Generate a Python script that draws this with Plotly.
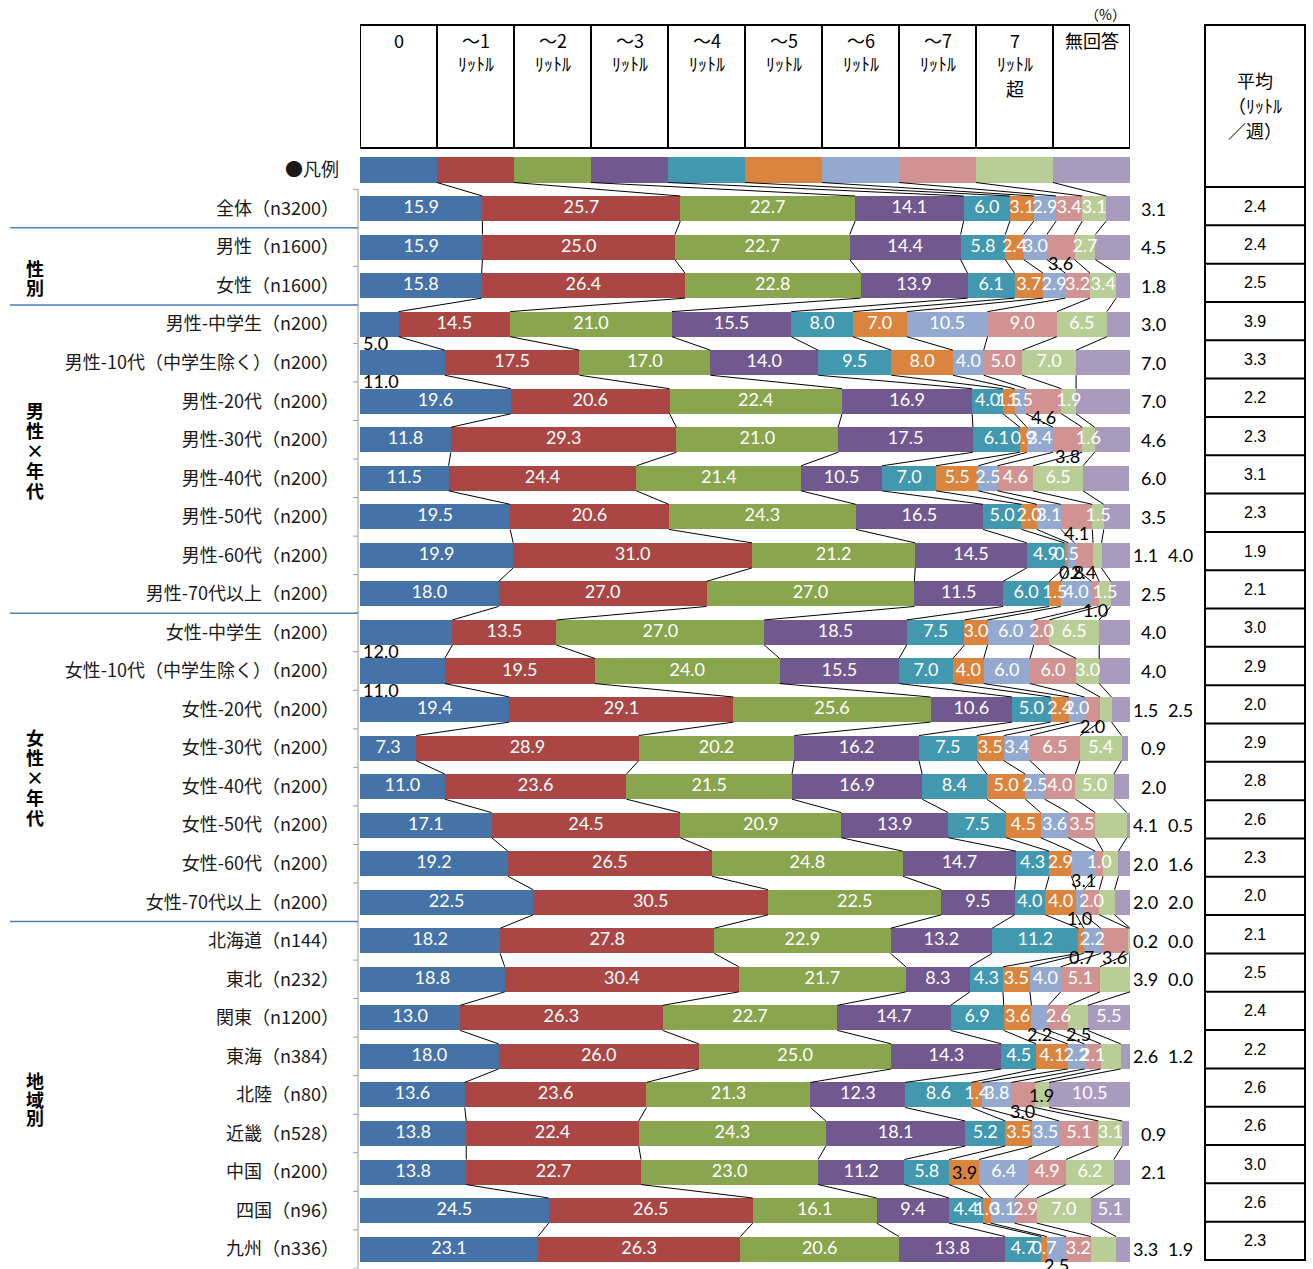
import plotly.graph_objects as go

W, H = 1313, 1269

rows = ["●凡例", "全体（n3200）", "男性（n1600）", "女性（n1600）",
        "男性-中学生（n200）", "男性-10代（中学生除く）（n200）", "男性-20代（n200）", "男性-30代（n200）",
        "男性-40代（n200）", "男性-50代（n200）", "男性-60代（n200）", "男性-70代以上（n200）",
        "女性-中学生（n200）", "女性-10代（中学生除く）（n200）", "女性-20代（n200）", "女性-30代（n200）",
        "女性-40代（n200）", "女性-50代（n200）", "女性-60代（n200）", "女性-70代以上（n200）",
        "北海道（n144）", "東北（n232）", "関東（n1200）", "東海（n384）", "北陸（n80）",
        "近畿（n528）", "中国（n200）", "四国（n96）", "九州（n336）"]

series_names = ["0", "～1ﾘｯﾄﾙ", "～2ﾘｯﾄﾙ", "～3ﾘｯﾄﾙ", "～4ﾘｯﾄﾙ", "～5ﾘｯﾄﾙ", "～6ﾘｯﾄﾙ", "～7ﾘｯﾄﾙ", "7ﾘｯﾄﾙ超", "無回答"]
header_lines = [["0"], ["～1", "ﾘｯﾄﾙ"], ["～2", "ﾘｯﾄﾙ"], ["～3", "ﾘｯﾄﾙ"], ["～4", "ﾘｯﾄﾙ"],
                ["～5", "ﾘｯﾄﾙ"], ["～6", "ﾘｯﾄﾙ"], ["～7", "ﾘｯﾄﾙ"], ["7", "ﾘｯﾄﾙ", "超"], ["無回答"]]
colors = ["#4572A7", "#AA4643", "#89A54E", "#71588F", "#4198AF",
          "#DB843D", "#93A9CF", "#D19392", "#B9CD96", "#A99BBD"]

# first value of every series is the legend row (equal segments)
v_0 = [10, 15.9, 15.9, 15.8, 5.0, 11.0, 19.6, 11.8, 11.5, 19.5, 19.9, 18.0,
       12.0, 11.0, 19.4, 7.3, 11.0, 17.1, 19.2, 22.5,
       18.2, 18.8, 13.0, 18.0, 13.6, 13.8, 13.8, 24.5, 23.1]
v_1 = [10, 25.7, 25.0, 26.4, 14.5, 17.5, 20.6, 29.3, 24.4, 20.6, 31.0, 27.0,
       13.5, 19.5, 29.1, 28.9, 23.6, 24.5, 26.5, 30.5,
       27.8, 30.4, 26.3, 26.0, 23.6, 22.4, 22.7, 26.5, 26.3]
v_2 = [10, 22.7, 22.7, 22.8, 21.0, 17.0, 22.4, 21.0, 21.4, 24.3, 21.2, 27.0,
       27.0, 24.0, 25.6, 20.2, 21.5, 20.9, 24.8, 22.5,
       22.9, 21.7, 22.7, 25.0, 21.3, 24.3, 23.0, 16.1, 20.6]
v_3 = [10, 14.1, 14.4, 13.9, 15.5, 14.0, 16.9, 17.5, 10.5, 16.5, 14.5, 11.5,
       18.5, 15.5, 10.6, 16.2, 16.9, 13.9, 14.7, 9.5,
       13.2, 8.3, 14.7, 14.3, 12.3, 18.1, 11.2, 9.4, 13.8]
v_4 = [10, 6.0, 5.8, 6.1, 8.0, 9.5, 4.0, 6.1, 7.0, 5.0, 4.9, 6.0,
       7.5, 7.0, 5.0, 7.5, 8.4, 7.5, 4.3, 4.0,
       11.2, 4.3, 6.9, 4.5, 8.6, 5.2, 5.8, 4.4, 4.7]
v_5 = [10, 3.1, 2.4, 3.7, 7.0, 8.0, 1.5, 0.9, 5.5, 2.0, 0.5, 1.5,
       3.0, 4.0, 2.4, 3.5, 5.0, 4.5, 2.9, 4.0,
       0.7, 3.5, 3.6, 4.1, 1.4, 3.5, 3.9, 1.0, 0.7]
v_6 = [10, 2.9, 3.0, 2.9, 10.5, 4.0, 1.5, 3.4, 2.5, 3.1, 0.8, 4.0,
       6.0, 6.0, 2.0, 3.4, 2.5, 3.6, 3.1, 1.0,
       2.2, 4.0, 2.2, 2.2, 3.8, 3.5, 6.4, 3.1, 2.5]
v_7 = [10, 3.4, 3.6, 3.2, 9.0, 5.0, 4.6, 3.8, 4.6, 4.1, 2.4, 1.0,
       2.0, 6.0, 2.0, 6.5, 4.0, 3.5, 1.0, 2.0,
       3.6, 5.1, 2.6, 2.1, 3.0, 5.1, 4.9, 2.9, 3.2]
v_8 = [10, 3.1, 2.7, 3.4, 6.5, 7.0, 1.9, 1.6, 6.5, 1.5, 1.1, 1.5,
       6.5, 3.0, 1.5, 5.4, 5.0, 4.1, 2.0, 2.0,
       0.2, 3.9, 2.5, 2.6, 1.9, 3.1, 6.2, 7.0, 3.3]
v_9 = [10, 3.1, 4.5, 1.8, 3.0, 7.0, 7.0, 4.6, 6.0, 3.5, 4.0, 2.5,
       4.0, 4.0, 2.5, 0.9, 2.0, 0.5, 1.6, 2.0,
       0.0, 0.0, 5.5, 1.2, 10.5, 0.9, 2.1, 5.1, 1.9]
series = [v_0, v_1, v_2, v_3, v_4, v_5, v_6, v_7, v_8, v_9]

avg = [2.4, 2.4, 2.5, 3.9, 3.3, 2.2, 2.3, 3.1, 2.3, 1.9, 2.1, 3.0, 2.9, 2.0,
       2.9, 2.8, 2.6, 2.3, 2.0, 2.1, 2.5, 2.4, 2.2, 2.6, 2.6, 3.0, 2.6, 2.3]

# label placement exceptions (default: inside white; 無回答 to the right)
label_mode = {
    2: {7: "below"},
    4: {0: "left"}, 5: {0: "left"},
    6: {7: "below"}, 7: {7: "below"}, 9: {7: "below"},
    10: {6: "below", 7: "below", 8: "r1", 9: "r2"},
    11: {7: "below"},
    12: {0: "left"}, 13: {0: "left"},
    14: {7: "below", 8: "r1", 9: "r2"},
    17: {8: "r1", 9: "r2"},
    18: {6: "below", 8: "r1", 9: "r2"},
    19: {6: "below", 8: "r1", 9: "r2"},
    20: {5: "below", 7: "below", 8: "r1", 9: "r2"},
    21: {8: "r1", 9: "r2"},
    22: {6: "below", 8: "below", 9: "in"},
    23: {8: "r1", 9: "r2"},
    24: {7: "below", 8: "inblack", 9: "in"},
    26: {5: "inblack"},
    27: {9: "in"},
    28: {6: "below", 8: "r1", 9: "r2"},
}

groups = [(["性", "別"], 268, 19), (["男", "性", "×", "年", "代"], 410, 20),
          (["女", "性", "×", "年", "代"], 737, 20), (["地", "域", "別"], 1080, 18.5)]

NUMFONT = "Lato, 'Liberation Sans', sans-serif"
JPFONT = "'Noto Sans CJK JP', 'Noto Sans', sans-serif"


def pxx(p):
    return p / W


def pxy(p):
    return 1 - p / H


ROW0 = 170.0
ROWH = 38.54
n = len(rows)
top_px = ROW0 - ROWH / 2
bot_px = top_px + ROWH * n
X0, X1 = 360, 1130
BW = 0.65
RIGHT_PX = {"right": 1153, "r1": 1145, "r2": 1180}

fig = go.Figure()
yidx = list(range(n))
for k in range(10):
    fig.add_trace(go.Bar(x=series[k], y=yidx, orientation="h", width=BW,
                         marker=dict(color=colors[k], line=dict(width=0)),
                         name=series_names[k], showlegend=False, hoverinfo="skip"))

# cumulative boundaries
cum = []
for r in range(n):
    c = [0.0]
    for k in range(10):
        c.append(c[-1] + series[k][r])
    cum.append(c)

# series lines
lx, ly = [], []
for r in range(n - 1):
    for k in range(1, 10):
        lx += [cum[r][k], cum[r + 1][k], None]
        ly += [r + BW / 2, r + 1 - BW / 2, None]
fig.add_trace(go.Scatter(x=lx, y=ly, mode="lines", line=dict(color="black", width=1),
                         showlegend=False, hoverinfo="skip"))

# labels
ix, iy, it = [], [], []
annotations = []
blackfont = dict(family=NUMFONT, size=18, color="black")
for r in range(1, n):
    modes = label_mode.get(r, {})
    for k in range(10):
        val = series[k][r]
        txt = f"{val:.1f}"
        mode = modes.get(k, "right" if k == 9 else "in")
        cx = (cum[r][k] + cum[r][k + 1]) / 2
        if mode == "in":
            ix.append(cx); iy.append(r); it.append(txt)
        elif mode == "inblack":
            annotations.append(dict(x=cx, y=r, xref="x", yref="y", text=txt, showarrow=False,
                                    xanchor="center", yanchor="middle", font=blackfont))
        elif mode == "below":
            annotations.append(dict(x=cx, y=r + 0.42, xref="x", yref="y", text=txt, showarrow=False,
                                    xanchor="center", yanchor="middle", font=blackfont))
        elif mode == "left":
            annotations.append(dict(x=0.1, y=r + 0.48, xref="x", yref="y", text=txt, showarrow=False,
                                    xanchor="left", yanchor="middle", font=blackfont))
        else:
            annotations.append(dict(x=pxx(RIGHT_PX[mode]), y=r, xref="paper", yref="y", text=txt,
                                    showarrow=False, xanchor="center", yanchor="middle", font=blackfont))

fig.add_trace(go.Scatter(x=ix, y=iy, text=it, mode="text", textposition="middle center",
                         textfont=dict(family=NUMFONT, size=18, color="white"),
                         cliponaxis=False, showlegend=False, hoverinfo="skip"))

shapes = []
# header table over the bars
shapes.append(dict(type="rect", xref="x", yref="paper", x0=0, x1=100, y0=pxy(148), y1=pxy(25),
                   line=dict(color="black", width=2)))
for k in range(1, 10):
    shapes.append(dict(type="line", xref="x", yref="paper", x0=k * 10, x1=k * 10,
                       y0=pxy(148), y1=pxy(25), line=dict(color="black", width=2)))
line_y = [40, 63, 88]
for k, lines in enumerate(header_lines):
    for j, t in enumerate(lines):
        annotations.append(dict(x=k * 10 + 5, y=pxy(line_y[j]), xref="x", yref="paper", text=t,
                                showarrow=False, xanchor="center", yanchor="middle",
                                font=dict(family=JPFONT, size=18, color="black")))
annotations.append(dict(x=pxx(1105), y=pxy(14), xref="paper", yref="paper", text="（%）",
                        showarrow=False, xanchor="center", yanchor="middle",
                        font=dict(family=JPFONT, size=14, color="black")))

# right table (average)
TL, TR, TT, THB, TB = 1205, 1305, 25, 187, 1260
shapes.append(dict(type="rect", xref="paper", yref="paper", x0=pxx(TL), x1=pxx(TR),
                   y0=pxy(TB), y1=pxy(TT), line=dict(color="black", width=2)))
nrow_t = len(avg)
rh = (TB - THB) / nrow_t
for i in range(nrow_t):
    yy = THB + rh * i
    shapes.append(dict(type="line", xref="paper", yref="paper", x0=pxx(TL), x1=pxx(TR),
                       y0=pxy(yy), y1=pxy(yy), line=dict(color="black", width=2)))
    annotations.append(dict(x=pxx((TL + TR) / 2), y=pxy(yy + rh / 2), xref="paper", yref="paper",
                            text=f"{avg[i]:.1f}", showarrow=False, xanchor="center", yanchor="middle",
                            font=dict(family="'Liberation Sans', Arial, sans-serif", size=16, color="black")))
for t, yy in [("平均", 80), ("（ﾘｯﾄﾙ", 105), ("／週）", 130)]:
    annotations.append(dict(x=pxx((TL + TR) / 2), y=pxy(yy), xref="paper", yref="paper", text=t,
                            showarrow=False, xanchor="center", yanchor="middle",
                            font=dict(family=JPFONT, size=18, color="black")))

# left axis line and boundary ticks
shapes.append(dict(type="line", xref="paper", yref="y", x0=pxx(358), x1=pxx(358), y0=0.5, y1=n - 0.5,
                   line=dict(color="#9a9a9a", width=1)))
for r in range(n):
    shapes.append(dict(type="line", xref="paper", yref="y", x0=pxx(353), x1=pxx(358),
                       y0=r + 0.5, y1=r + 0.5, line=dict(color="#9a9a9a", width=1)))
# group separators
for b in [1.5, 3.5, 11.5, 19.5]:
    shapes.append(dict(type="line", xref="paper", yref="y", x0=pxx(10), x1=pxx(358), y0=b, y1=b,
                       line=dict(color="#4F81BD", width=1.5)))
# group labels
for chars, y0, step in groups:
    for j, ch in enumerate(chars):
        annotations.append(dict(x=pxx(35), y=pxy(y0 + j * step), xref="paper", yref="paper",
                                text=f"<b>{ch}</b>", showarrow=False, xanchor="center", yanchor="middle",
                                font=dict(family=JPFONT, size=18, color="black")))

fig.update_layout(
    width=W, height=H, margin=dict(l=0, r=0, t=0, b=0),
    paper_bgcolor="white", plot_bgcolor="white",
    barmode="stack", bargap=0.35,
    xaxis=dict(domain=[pxx(X0), pxx(X1)], range=[0, 100], showgrid=False, zeroline=False,
               showticklabels=False, showline=False, fixedrange=True),
    yaxis=dict(domain=[1 - bot_px / H, 1 - top_px / H], range=[n - 0.5, -0.5],
               tickmode="array", tickvals=yidx, ticktext=rows, ticks="", showgrid=False,
               zeroline=False, showline=False, ticklabelstandoff=20,
               tickfont=dict(family=JPFONT, size=18, color="#1a1a1a"), fixedrange=True),
    shapes=shapes, annotations=annotations, showlegend=False,
)

fig.write_html("out.html", config={"displayModeBar": False},
               post_script="document.body.style.margin='0px';")
